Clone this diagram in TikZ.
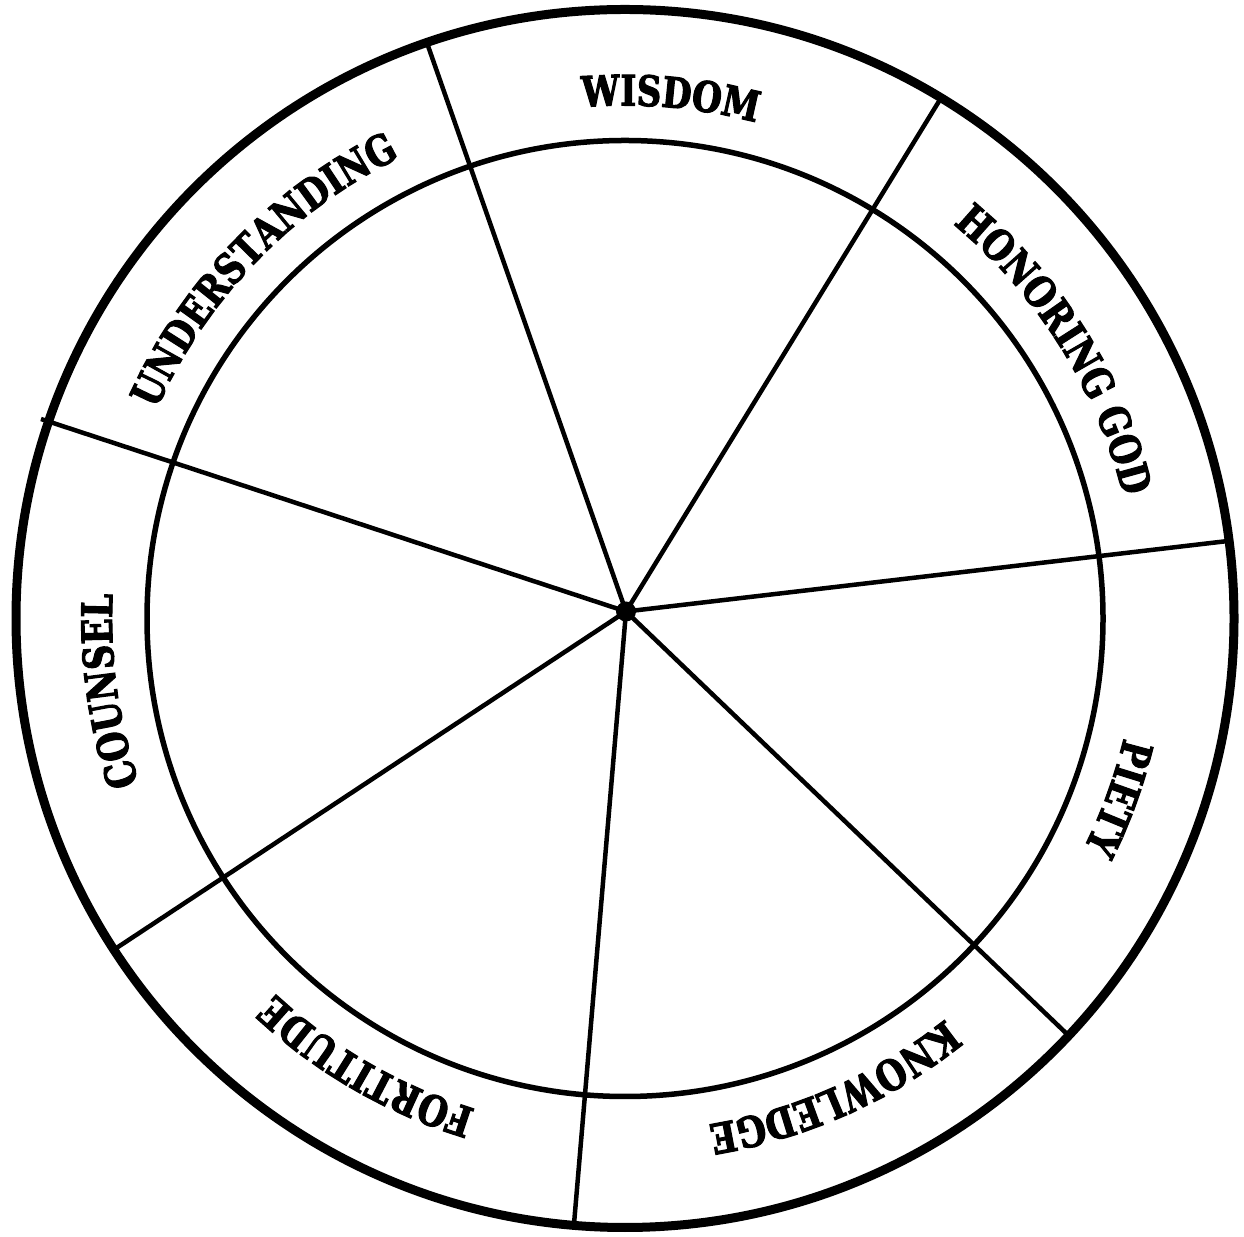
\documentclass[tikz,border=0pt]{standalone}
\usepackage{fontspec}
\newfontfamily\labfont{DejaVu Serif Condensed}[BoldFeatures={FakeStretch=0.9,FakeBold=2.5}]
\usetikzlibrary{decorations.text}
\tikzset{
  outerring/.style={line width=9pt},
  innerring/.style={line width=5.5pt},
  spoke/.style={line width=4.5pt},
  ringlabel/.style={decorate, decoration={text along path, text align=center,
     text={|\labfont\bfseries\fontsize{42}{42}\selectfont|#1}}}
}
\begin{document}
\begin{tikzpicture}[x=1pt,y=1pt]
\useasboundingbox (0,0) rectangle (1244,1236);
\coordinate (C) at (625,617.5);
\coordinate (H) at (626,624.5);
\coordinate (s1) at (1228,695);
\coordinate (s2) at (941,1138);
\coordinate (s3) at (427,1193);
\coordinate (s4) at (41,817);
\coordinate (s5) at (115,287);
\coordinate (s6) at (574,12);
\coordinate (s7) at (1068,201);
% spokes
\foreach \s in {s1,s2,s3,s4,s5,s6,s7}
  \draw[spoke] (H) -- (\s);
% circles
\draw[innerring] (C) circle[radius=478];
\draw[outerring] (C) circle[radius=609];
\fill (H) circle[radius=10];
% labels
\path[ringlabel=WISDOM] (C) ++(115:513) arc[start angle=115, end angle=55, radius=513];
\path[ringlabel=HONORING GOD] (C) ++(62:513) arc[start angle=62, end angle=2, radius=513];
\path[ringlabel=PIETY] (C) ++(10:513) arc[start angle=10, end angle=-50, radius=513];
\path[ringlabel=KNOWLEDGE] (C) ++(-36:513) arc[start angle=-36, end angle=-96, radius=513];
\path[ringlabel=FORTITUDE] (C) ++(270:513) arc[start angle=270, end angle=210, radius=513];
\path[ringlabel=COUNSEL] (C) ++(218:513) arc[start angle=218, end angle=158, radius=513];
\path[ringlabel=UNDERSTANDING] (C) ++(166:513) arc[start angle=166, end angle=106, radius=513];
\end{tikzpicture}
\end{document}
